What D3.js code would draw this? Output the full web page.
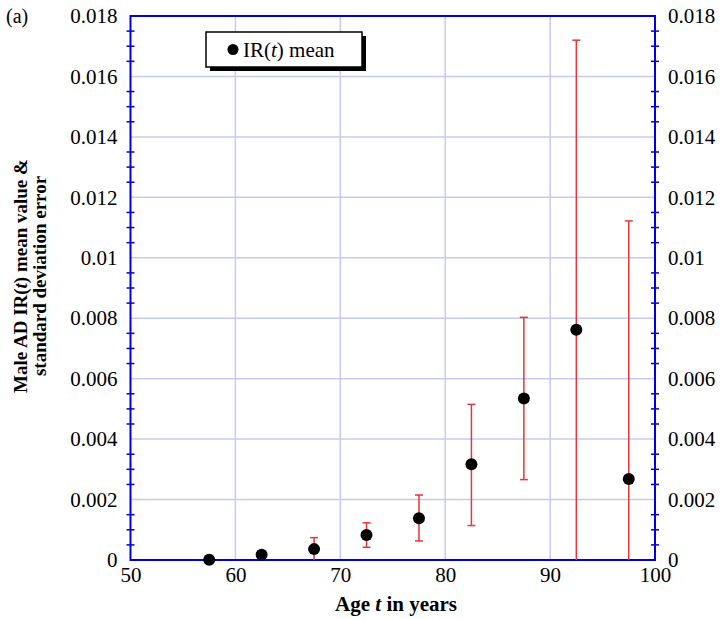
<!DOCTYPE html>
<html><head><meta charset="utf-8">
<script src="https://cdn.jsdelivr.net/npm/d3@7"></script>
<style>body{margin:0;background:#fff}svg{display:block}text{font-family:"Liberation Serif","Times New Roman",serif}</style>
</head><body><svg id="c" width="722" height="619"></svg>
<script>
const ages = [57.5, 62.5, 67.5, 72.5, 77.5, 82.5, 87.5, 92.5, 97.5];
const means = [0.00001, 0.00017, 0.00036, 0.00083, 0.00138, 0.00317, 0.00534, 0.00762, 0.00268];
const errLow = [0, 0.00005, 0, 0.00042, 0.00063, 0.00114, 0.00266, 0, 0];
const errHigh = [0, 0.0003, 0.00074, 0.00123, 0.00215, 0.00515, 0.00803, 0.0172, 0.01122];
const xTicks = [50, 60, 70, 80, 90, 100];
const yTicks = [0, 0.002, 0.004, 0.006, 0.008, 0.01, 0.012, 0.014, 0.016, 0.018];
const yTickLabels = ["0", "0.002", "0.004", "0.006", "0.008", "0.01", "0.012", "0.014", "0.016", "0.018"];

const svg = d3.select("#c");
const L = 130.5, R = 655, T = 16, B = 560;
const FS = 21;
const x = d3.scaleLinear().domain([50, 100]).range([L, R]);
const y = d3.scaleLinear().domain([0, 0.018]).range([B, T]);

// grid
svg.append("g").selectAll("line").data(xTicks.slice(1, -1)).join("line")
  .attr("x1", d => x(d)).attr("x2", d => x(d)).attr("y1", T).attr("y2", B)
  .attr("stroke", "#c8c8f4").attr("stroke-width", 1.5);
svg.append("g").selectAll("line").data(yTicks.slice(1, -1)).join("line")
  .attr("y1", d => y(d)).attr("y2", d => y(d)).attr("x1", L).attr("x2", R)
  .attr("stroke", "#c8c8f4").attr("stroke-width", 1.5);

// minor ticks on left and right
const minor = d3.range(0, 0.018001, 0.0005).filter(v => Math.round(v * 10000) % 20 !== 0);
[L, R].forEach(ax => {
  svg.append("g").selectAll("line").data(minor).join("line")
    .attr("x1", ax - 4).attr("x2", ax + 4).attr("y1", d => y(d)).attr("y2", d => y(d))
    .attr("stroke", "#0000dd").attr("stroke-width", 1.5);
});

// frame
svg.append("rect").attr("x", L).attr("y", T).attr("width", R - L).attr("height", B - T)
  .attr("fill", "none").attr("stroke", "#0000dd").attr("stroke-width", 2);

// axes labels
const xAxis = d3.axisBottom(x).tickValues(xTicks).tickSize(0).tickPadding(8);
const gx = svg.append("g").attr("transform", `translate(0,${B})`).call(xAxis);
gx.select(".domain").remove();
gx.selectAll("text").attr("font-size", FS).attr("fill", "#000").attr("font-family", "Liberation Serif").attr("dy", "0.68em");

const yAxisL = d3.axisLeft(y).tickValues(yTicks).tickFormat((d, i) => yTickLabels[i]).tickSize(0).tickPadding(13);
const gyl = svg.append("g").attr("transform", `translate(${L},0)`).call(yAxisL);
gyl.select(".domain").remove();
gyl.selectAll("text").attr("font-size", FS).attr("fill", "#000").attr("font-family", "Liberation Serif");

const yAxisR = d3.axisRight(y).tickValues(yTicks).tickFormat((d, i) => yTickLabels[i]).tickSize(0).tickPadding(13);
const gyr = svg.append("g").attr("transform", `translate(${R},0)`).call(yAxisR);
gyr.select(".domain").remove();
gyr.selectAll("text").attr("font-size", FS).attr("fill", "#000").attr("font-family", "Liberation Serif");

// error bars
const eb = svg.append("g").attr("stroke", "#e83535").attr("stroke-width", 1.5);
ages.forEach((a, i) => {
  if (errHigh[i] - errLow[i] <= 0) return;
  eb.append("line").attr("x1", x(a)).attr("x2", x(a)).attr("y1", y(errLow[i])).attr("y2", y(errHigh[i]));
  eb.append("line").attr("x1", x(a) - 4).attr("x2", x(a) + 4).attr("y1", y(errHigh[i])).attr("y2", y(errHigh[i]));
  if (errLow[i] > 0) eb.append("line").attr("x1", x(a) - 4).attr("x2", x(a) + 4).attr("y1", y(errLow[i])).attr("y2", y(errLow[i]));
});

// points
svg.append("g").selectAll("circle").data(ages).join("circle")
  .attr("cx", d => x(d)).attr("cy", (d, i) => y(means[i])).attr("r", 6).attr("fill", "#000");

// legend
const lg = svg.append("g");
lg.append("rect").attr("x", 210).attr("y", 36).attr("width", 156).attr("height", 35).attr("fill", "#000");
lg.append("rect").attr("x", 206).attr("y", 32).attr("width", 156).attr("height", 35).attr("fill", "#fff").attr("stroke", "#000").attr("stroke-width", 1.5);
lg.append("circle").attr("cx", 233).attr("cy", 49.5).attr("r", 5.5).attr("fill", "#000");
const lt = lg.append("text").attr("x", 243).attr("y", 57).attr("font-size", FS);
lt.append("tspan").text("IR(");
lt.append("tspan").attr("font-style", "italic").text("t");
lt.append("tspan").text(") mean");

// (a)
svg.append("text").attr("x", 6).attr("y", 23).attr("font-size", 20).text("(a)");

// x title
const xt = svg.append("text").attr("x", 396).attr("y", 611).attr("text-anchor", "middle")
  .attr("font-size", FS).attr("font-weight", "bold");
xt.append("tspan").text("Age ");
xt.append("tspan").attr("font-style", "italic").text("t");
xt.append("tspan").text(" in years");

// y title
const yt = svg.append("text").attr("transform", `translate(27,276) rotate(-90)`)
  .attr("text-anchor", "middle").attr("font-size", 19).attr("font-weight", "bold");
yt.append("tspan").text("Male AD IR(");
yt.append("tspan").attr("font-style", "italic").text("t");
yt.append("tspan").text(") mean value &");
svg.append("text").attr("transform", `translate(46,276) rotate(-90)`)
  .attr("text-anchor", "middle").attr("font-size", 19).attr("font-weight", "bold")
  .text("standard deviation error");
</script></body></html>
